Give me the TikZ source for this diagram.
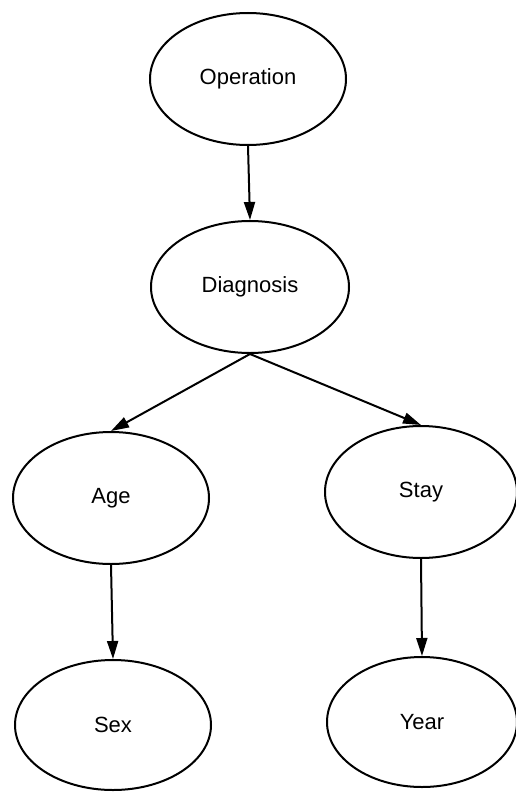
\documentclass[tikz,border=0pt]{standalone}
\usepackage{fontspec}
\setmainfont{Liberation Sans}
\usetikzlibrary{shapes.geometric,arrows.meta}
\begin{document}
\begin{tikzpicture}[x=1bp,y=-1bp,
  var/.style={draw,ellipse,line width=2bp,inner sep=0pt,
    minimum width=196bp,minimum height=132bp,font=\fontsize{22bp}{25bp}\selectfont},
  link/.style={line width=2bp,-{Triangle[length=18bp,width=11bp]}}]
  \useasboundingbox (0,0) rectangle (516,792);
  \node[var] (op)   at (248,79)  {Operation};
  \node[var,minimum width=198bp] (dg) at (250,287) {Diagnosis};
  \node[var] (age)  at (111,498) {Age};
  \node[var,minimum width=192bp] (stay) at (421,492) {Stay};
  \node[var,minimum height=130bp] (sex)  at (113,725) {Sex};
  \node[var,minimum width=190bp,minimum height=130bp] (year) at (422,722) {Year};
  \draw[link] (op.south) -- (dg.north);
  \draw[link] (dg.south) -- (age.north);
  \draw[link] (dg.south) -- (stay.north);
  \draw[link] (age.south) -- (sex.north);
  \draw[link] (stay.south) -- (year.north);
\end{tikzpicture}
\end{document}
